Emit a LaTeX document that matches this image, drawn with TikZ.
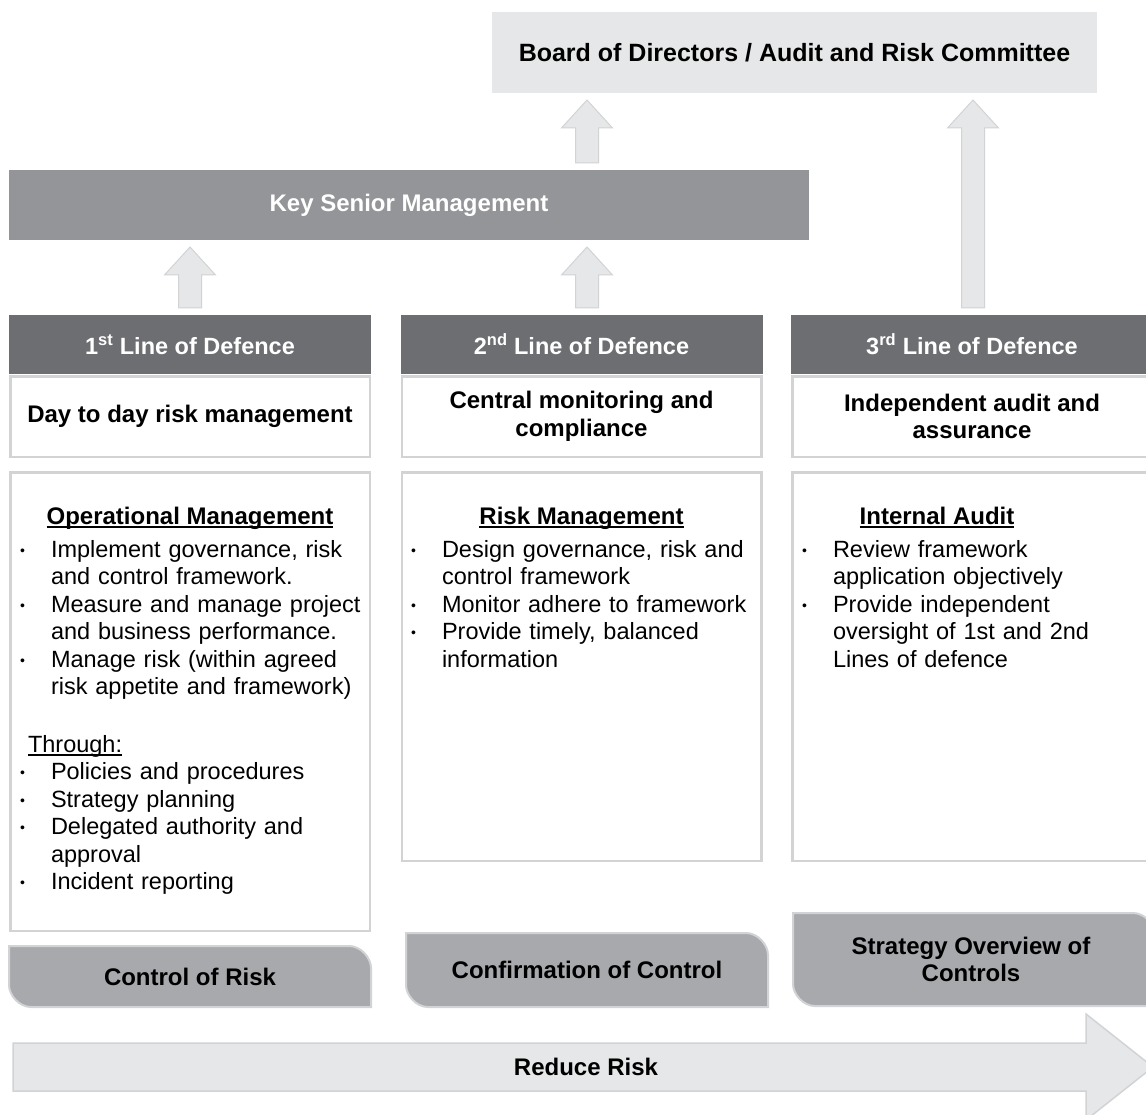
\documentclass[tikz,border=0pt]{standalone}
\usepackage{fontspec}
\setmainfont{Liberation Sans}
\usepackage{graphicx}
\usetikzlibrary{calc}
\definecolor{cDark}{HTML}{6D6E71}
\definecolor{cMid}{HTML}{939598}
\definecolor{cLight}{HTML}{E6E7E8}
\definecolor{cTab}{HTML}{A7A9AC}
\definecolor{cLine}{HTML}{D1D3D4}
\newcommand\bul{\makebox[30pt][l]{\hspace*{-1pt}\raisebox{0.07em}{\fontsize{14}{14}\selectfont\textbullet}}}
\newcommand\ind{\hspace*{30pt}}
\newcommand\ulx[1]{\setbox0=\hbox{#1}\makebox[0pt][l]{\rule[-3.8pt]{\wd0}{1.6pt}}\box0}
\newcommand\blockarrow[3]{\draw[barrow] let \p1=(#1), \p2=(#2), \p3=(#3) in
  (\x1-11.5pt,\y2+7pt) -- (\x1-11.5pt,\y3-35pt) -- (\x1-25.5pt,\y3-35pt) -- (\x1,\y3-7pt)
  -- (\x1+25.5pt,\y3-35pt) -- (\x1+11.5pt,\y3-35pt) -- (\x1+11.5pt,\y2+7pt) -- cycle;}
\newcommand\tabshape[1]{\draw[tabfill]
  (#1.north west) -- ([xshift=-22pt]#1.north east)
  .. controls ([xshift=-9.9pt]#1.north east) and ([yshift=-12.1pt]#1.north east) .. ([yshift=-22pt]#1.north east)
  -- (#1.south east) -- ([xshift=22pt]#1.south west)
  .. controls ([xshift=9.9pt]#1.south west) and ([yshift=12.1pt]#1.south west) .. ([yshift=22pt]#1.south west)
  -- cycle;}
\begin{document}
\begin{tikzpicture}[x=1pt,y=-1pt,
  every node/.style={inner sep=0pt, outer sep=0pt},
  fbold/.style={font=\fontsize{24}{27.5}\selectfont\bfseries},
  body/.style={font=\fontsize{23.5}{27.5}\selectfont, align=left, text width=360pt, anchor=base west},
  board/.style={fill=cLight, minimum width=605pt, minimum height=81pt, font=\fontsize{25}{28}\selectfont\bfseries},
  ksm/.style={fill=cMid, text=white, fbold, minimum width=800pt, minimum height=70pt},
  hdr/.style={fill=cDark, text=white, font=\fontsize{23.5}{27.5}\selectfont\bfseries, minimum width=362pt, minimum height=59pt},
  subbox/.style={draw=cLine, line width=2.5pt, fill=white, minimum width=359.5pt, minimum height=80.5pt, fbold, align=center},
  bodybox/.style={draw=cLine, line width=2.5pt, fill=white, minimum width=359.5pt},
  tabnode/.style={fbold, align=center, minimum width=362pt},
  tabfill/.style={fill=cTab, draw=cLine, line width=2pt},
  barrow/.style={fill=cLight, draw=cLine, line width=1pt},
  title/.style={fbold, anchor=base}]
\useasboundingbox (0,0) rectangle (1146,1115);
\fill[white] (0,0) rectangle (1146,1115);
\clip (0,0) rectangle (1146,1115);

% top boxes
\node[board] (board) at (794.5,52.5) {Board of Directors / Audit and Risk Committee};
\node[ksm] (ksm) at (409,205) {Key Senior Management};

% headers
\node[hdr] (h1) at (190,344.5) {1\textsuperscript{st} Line of Defence};
\node[hdr] (h2) at (581.5,344.5) {2\textsuperscript{nd} Line of Defence};
\node[hdr] (h3) at (972,344.5) {3\textsuperscript{rd} Line of Defence};

% subtitle boxes
\node[subbox] (s1) at (190,416.5) {Day to day risk management};
\node[subbox] (s2) at (581.5,416.5) {Central monitoring and\\compliance};
\node[subbox] (s3) at (972,416.5) {Independent audit and\\assurance};

% body boxes
\node[bodybox, minimum height=458.5pt] (b1) at (190,701.5) {};
\node[bodybox, minimum height=388.5pt] (b2) at (581.5,666.5) {};
\node[bodybox, minimum height=388.5pt] (b3) at (972,666.5) {};

% body texts
\node[title] (om) at (190,524) {\ulx{Operational Management}};
\node[title] (rm) at (581.5,524) {\ulx{Risk Management}};
\node[title] (ia) at (937,524) {\ulx{Internal Audit}};

\node[body] (l1) at (21,557) {\bul Implement governance, risk\\
\ind and control framework.\\
\bul Measure and manage project\\
\ind and business performance.\\
\bul Manage risk (within agreed\\
\ind risk appetite and framework)\\[30pt]
\hspace*{7pt}\ulx{Through:}\\
\bul Policies and procedures\\
\bul Strategy planning\\
\bul Delegated authority and\\
\ind approval\\
\bul Incident reporting};

\node[body] (l2) at (412,557) {\bul Design governance, risk and\\
\ind control framework\\
\bul Monitor adhere to framework\\
\bul Provide timely, balanced\\
\ind information};

\node[body] (l3) at (803,557) {\bul Review framework\\
\ind application objectively\\
\bul Provide independent\\
\ind oversight of 1st and 2nd\\
\ind Lines of defence};

% tabs
\node[tabnode, minimum height=61pt] (t1) at (190,976.5) {};
\tabshape{t1}
\node[fbold] at (t1) {Control of Risk};
\node[tabnode, minimum height=74pt] (t2) at (587,970) {};
\tabshape{t2}
\node[fbold] at (t2) {Confirmation of Control};
\node[tabnode, minimum height=93pt] (t3) at (974,959.5) {};
\tabshape{t3}
\node[fbold, align=center] at ($(t3)+(-3,0)$) {Strategy Overview of\\Controls};

% up arrows
\blockarrow{h1.north}{h1.north}{ksm.south}
\blockarrow{$(h2.north)+(5.5,0)$}{h2.north}{ksm.south}
\blockarrow{$(ksm.north)+(178,0)$}{ksm.north}{board.south}
\blockarrow{$(h3.north)+(1,0)$}{h3.north}{board.south}

% reduce risk arrow
\draw[barrow, line width=1.5pt] (13,1043) -- (1086,1043) -- (1086,1014) -- (1153,1067)
  -- (1086,1120) -- (1086,1091) -- (13,1091) -- cycle;
\node[fbold] (reduce) at (586,1067) {Reduce Risk};
\end{tikzpicture}
\end{document}
